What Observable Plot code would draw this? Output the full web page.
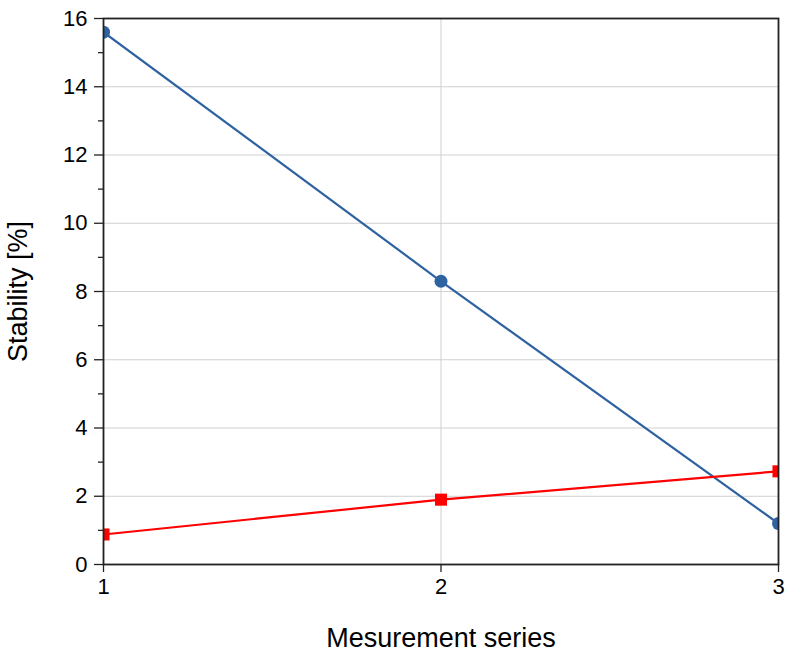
<!DOCTYPE html>
<html>
<head>
<meta charset="utf-8">
<script src="https://cdn.jsdelivr.net/npm/d3@7"></script>
<script src="https://cdn.jsdelivr.net/npm/@observablehq/plot@0.6"></script>
<style>
  html, body { margin: 0; padding: 0; background: #fff; }
  #chart svg { display: block; }
</style>
</head>
<body>
<div id="chart"></div>
<script>
const series = [1, 2, 3];
const blueValues = [15.6, 8.3, 1.2];
const redValues = [0.88, 1.9, 2.73];
const yMajorTicks = [0, 2, 4, 6, 8, 10, 12, 14, 16];
const yMinorTicks = [1, 3, 5, 7, 9, 11, 13, 15];
const xTicks = [1, 2, 3];

const blue = series.map((x, i) => ({x, y: blueValues[i]}));
const red = series.map((x, i) => ({x, y: redValues[i]}));

const chart = Plot.plot({
  width: 793,
  height: 655,
  marginLeft: 103,
  marginRight: 15,
  marginTop: 18,
  marginBottom: 91,
  style: {fontFamily: "'Liberation Sans', Arial, sans-serif", fontSize: "22px", color: "#000", background: "#fff"},
  x: {domain: [1, 3]},
  y: {domain: [0, 16]},
  marks: [
    Plot.gridY(yMajorTicks.filter(d => d > 0 && d < 16), {stroke: "#d0d0d0", strokeOpacity: 1, strokeWidth: 1}),
    Plot.gridX([2], {stroke: "#d0d0d0", strokeOpacity: 1, strokeWidth: 1}),
    Plot.axisY({ticks: yMinorTicks, tickSize: 5, text: null, label: null, stroke: "#222", strokeWidth: 1.3}),
    Plot.axisY({ticks: yMajorTicks, tickSize: 9, tickPadding: 7, tickFormat: d3.format("d"),
      stroke: "#222", strokeWidth: 1.3,
      label: "Stability [%]", labelAnchor: "center", labelArrow: "none", labelOffset: 96}),
    Plot.axisX({ticks: xTicks, tickSize: 8, tickPadding: 6, tickFormat: d3.format("d"),
      stroke: "#222", strokeWidth: 1.3,
      label: "Mesurement series", labelAnchor: "center", labelArrow: "none", labelOffset: 82}),
    Plot.line(blue, {x: "x", y: "y", stroke: "#2e62a1", strokeWidth: 2.2, clip: true}),
    Plot.line(red, {x: "x", y: "y", stroke: "#ff0000", strokeWidth: 2.2, clip: true}),
    Plot.dot(blue, {x: "x", y: "y", r: 6.5, fill: "#2e62a1", symbol: "circle", clip: true}),
    Plot.dot(red, {x: "x", y: "y", r: 6.8, fill: "#ff0000", symbol: "square", clip: true}),
    Plot.frame({stroke: "#222", strokeWidth: 1.8})
  ]
});

chart.querySelectorAll("text").forEach(t => {
  const g = t.closest("g[aria-label]");
  const lab = g ? g.getAttribute("aria-label") : "";
  const size = /axis label$/.test(lab) ? "27px" : "22px";
  t.setAttribute("font-size", size);
  t.style.fontSize = size;
});

document.getElementById("chart").appendChild(chart);
</script>
</body>
</html>
